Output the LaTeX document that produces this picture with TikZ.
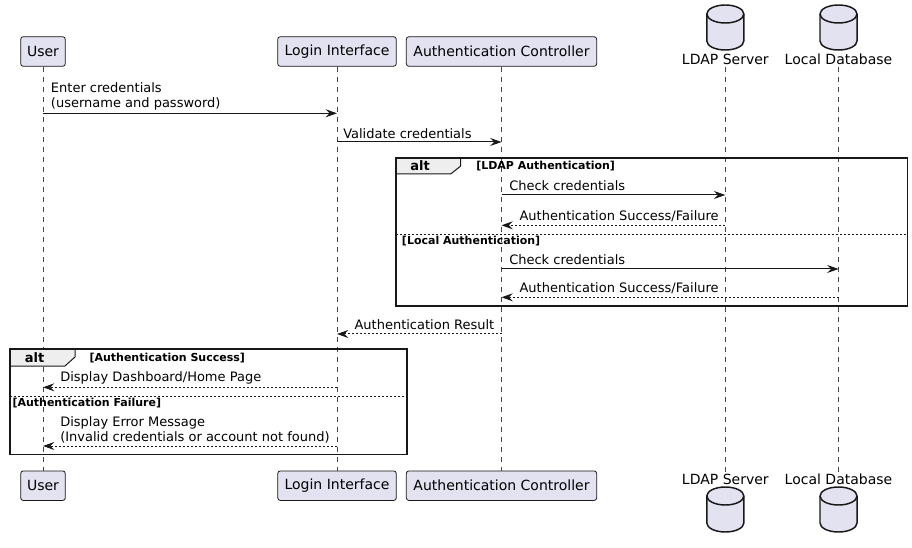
\documentclass[tikz,border=0pt]{standalone}
\usepackage{fontspec}
\setmainfont{DejaVu Sans}
\usetikzlibrary{arrows.meta}
\definecolor{partfill}{HTML}{E2E2F0}
\definecolor{ink}{HTML}{181818}
\definecolor{tabfill}{HTML}{EEEEEE}
\newcommand\dbcyl[2]{%
  \filldraw[fill=partfill,draw=ink,line width=1.1pt]
    (#1-18.5,#2+9) arc[start angle=180,end angle=360,x radius=18.5,y radius=9]
    -- (#1+18.5,#2+36) arc[start angle=0,end angle=180,x radius=18.5,y radius=9] -- cycle;
  \draw[ink,line width=1.1pt] (#1-18.5,#2+9) arc[start angle=180,end angle=0,x radius=18.5,y radius=9];
}
\begin{document}
\begin{tikzpicture}[x=0.75pt,y=-0.75pt,
  part/.style={draw=ink,fill=partfill,rounded corners=2pt,line width=0.6pt,
    minimum height=22.2pt,inner sep=0pt,font=\fontsize{10.5}{12}\selectfont},
  dblabel/.style={inner sep=0pt,font=\fontsize{10.5}{12}\selectfont},
  life/.style={draw=ink!80,line width=0.45pt,dash pattern=on 3.75pt off 3.75pt},
  msg/.style={draw=ink,line width=0.75pt,-{Stealth[length=8.5pt,width=6pt,inset=3pt]}},
  ret/.style={msg,dash pattern=on 1.5pt off 1.5pt},
  txt/.style={anchor=west,inner sep=0pt,align=left,font=\fontsize{9.75}{11.6}\selectfont},
  guard/.style={anchor=west,inner sep=0pt,font=\bfseries\fontsize{8.25}{10}\selectfont},
  alttxt/.style={inner sep=0pt,font=\bfseries\fontsize{9.75}{11}\selectfont},
  frame/.style={draw=ink,line width=1.2pt},
  tab/.style={fill=tabfill,draw=ink,line width=0.75pt},
  sep/.style={draw=ink,line width=0.6pt,dash pattern=on 1.5pt off 1.5pt}]
\useasboundingbox (0,0) rectangle (912,548);

% participants top
\node[part,minimum width=33.45pt] (user) at (43,51.5) {User};
\node[part,minimum width=88.95pt] (login) at (337,51.5) {Login Interface};
\node[part,minimum width=142.8pt] (auth) at (501.5,51.5) {Authentication Controller};
\dbcyl{725.3}{5}
\dbcyl{838.5}{5}
\node[dblabel] (ldap) at (725.3,59.3) {LDAP Server};
\node[dblabel] (local) at (838.5,59.3) {Local Database};

% participants bottom
\node[part,minimum width=33.45pt] (userb) at (43,485.7) {User};
\node[part,minimum width=88.95pt] (loginb) at (337,485.7) {Login Interface};
\node[part,minimum width=142.8pt] (authb) at (501.5,485.7) {Authentication Controller};
\node[dblabel] (ldapb) at (725.3,479.3) {LDAP Server};
\node[dblabel] (localb) at (838.5,479.3) {Local Database};
\dbcyl{725.3}{487}
\dbcyl{838.5}{487}

% lifelines
\draw[life] (user.south) -- (userb.north);
\draw[life] (login.south) -- (loginb.north);
\draw[life] (auth.south) -- (authb.north);
\draw[life] ([yshift=-1.5pt]ldap.south) -- ([yshift=1.5pt]ldapb.north);
\draw[life] ([yshift=-1.5pt]local.south) -- ([yshift=1.5pt]localb.north);

% alt frame 1
\filldraw[tab] (395.7,158.3) -- (460.7,158.3) -- (460.7,166) -- (450.7,174) -- (395.7,174) -- cycle;
\node[alttxt] (alt1) at (420,166) {alt};
\node[guard] (g1) at (476,166) {[LDAP Authentication]};
\draw[sep] (395.7,234.3) -- (907.3,234.3);
\node[guard] (g2) at (401.7,240.7) {[Local Authentication]};
\draw[frame] (395.7,158.3) rectangle (907.3,306);

% alt frame 2
\filldraw[tab] (10,349) -- (75,349) -- (75,357) -- (65,366) -- (10,366) -- cycle;
\node[alttxt] (alt2) at (34.5,357.5) {alt};
\node[guard] (g3) at (89.3,358.3) {[Authentication Success]};
\draw[sep] (10,396.3) -- (406.7,396.3);
\node[guard] (g4) at (12.3,403.3) {[Authentication Failure]};
\draw[frame] (10,349) rectangle (406.7,454.3);

% message levels
\coordinate (y1) at (0,113.3);
\coordinate (y2) at (0,142);
\coordinate (y3) at (0,195);
\coordinate (y4) at (0,225.3);
\coordinate (y5) at (0,269);
\coordinate (y6) at (0,297.3);
\coordinate (y7) at (0,334);
\coordinate (y8) at (0,387.3);
\coordinate (y9) at (0,446);

% messages
\node[txt] (t1) at (50.7,96.3) {Enter credentials\\(username and password)};
\draw[msg] (user |- y1) -- (login |- y1);
\node[txt] (t2) at (343,133.5) {Validate credentials};
\draw[msg] (login |- y2) -- (auth |- y2);
\node[txt] (t3) at (509,186) {Check credentials};
\draw[msg] (auth |- y3) -- (ldap |- y3);
\node[txt] (t4) at (519.3,215.7) {Authentication Success/Failure};
\draw[ret] (ldap |- y4) -- (auth |- y4);
\node[txt] (t5) at (509,259.5) {Check credentials};
\draw[msg] (auth |- y5) -- (local |- y5);
\node[txt] (t6) at (519.3,287.7) {Authentication Success/Failure};
\draw[ret] (local |- y6) -- (auth |- y6);
\node[txt] (t7) at (354.3,324.7) {Authentication Result};
\draw[ret] (auth |- y7) -- (login |- y7);
\node[txt] (t8) at (60,377.7) {Display Dashboard/Home Page};
\draw[ret] (login |- y8) -- (user |- y8);
\node[txt] (t9) at (60,429.7) {Display Error Message\\(Invalid credentials or account not found)};
\draw[ret] (login |- y9) -- (user |- y9);
\end{tikzpicture}
\end{document}
